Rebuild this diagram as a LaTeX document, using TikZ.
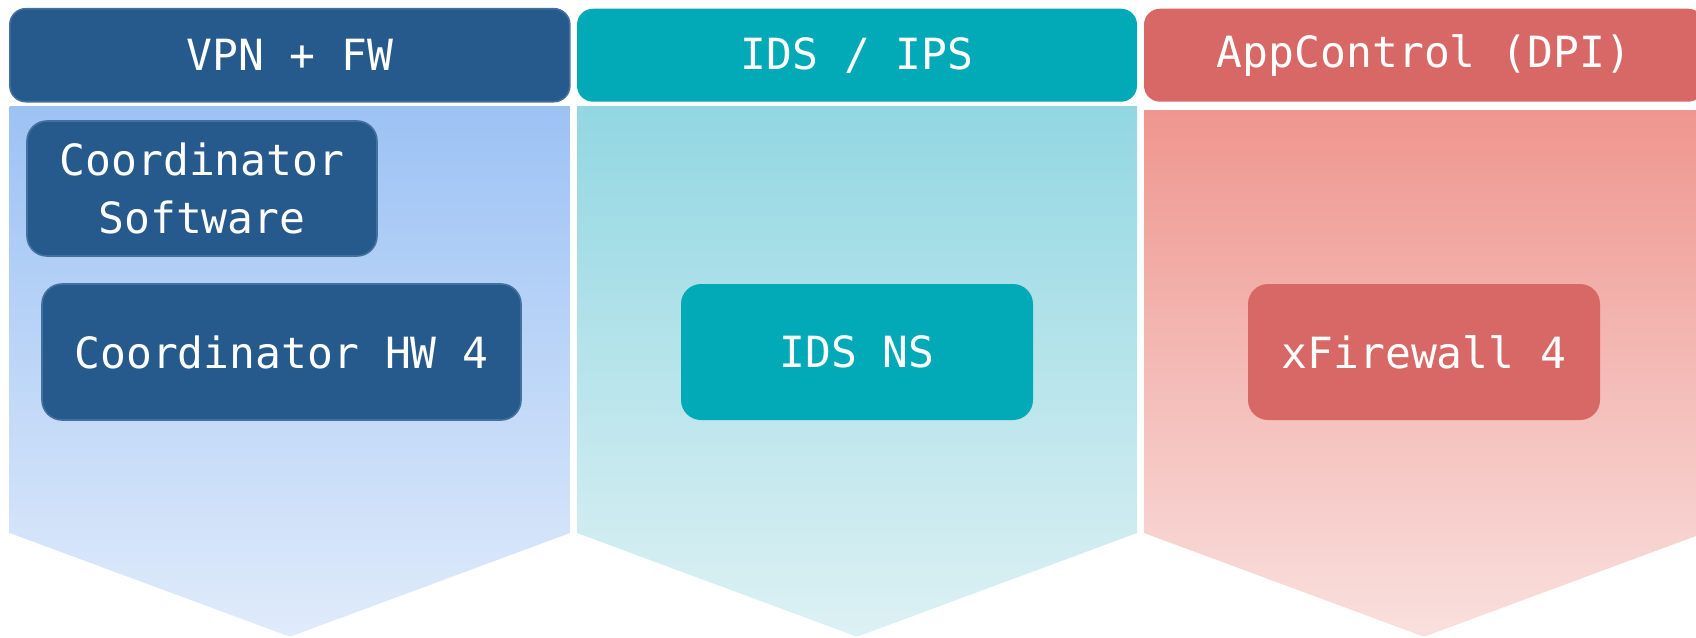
\documentclass[tikz,border=0pt]{standalone}
\usepackage{fontspec}
\setmonofont{DejaVu Sans Mono}
\definecolor{hdrblue}{HTML}{275A8C}
\definecolor{hdrblueline}{HTML}{43709E}
\definecolor{hdrteal}{HTML}{02A9B6}
\definecolor{hdrred}{HTML}{D76865}
\definecolor{blueTop}{HTML}{9CC2F4}
\definecolor{blueBot}{HTML}{E0EBFB}
\definecolor{tealTop}{HTML}{92D7E2}
\definecolor{tealBot}{HTML}{DDF1F4}
\definecolor{redTop}{HTML}{EF968F}
\definecolor{redBot}{HTML}{F9E0DE}
\newcommand\mytxt{\ttfamily\fontsize{21.5}{26}\selectfont}
\begin{document}
\begin{tikzpicture}[x=0.5pt,y=-0.5pt,
  hdr/.style={rounded corners=8pt, text=white, font=\mytxt, minimum width=280pt, minimum height=46.5pt, inner sep=0pt},
  inbox/.style={rounded corners=10pt, text=white, font=\mytxt, minimum height=68pt, inner sep=0pt, align=center},
  blueitem/.style={fill=hdrblue, draw=hdrblueline, line width=0.8pt},
  tealitem/.style={fill=hdrteal},
  reditem/.style={fill=hdrred}]
\useasboundingbox (0,0) rectangle (1696,637);
% bodies
\shade[top color=blueTop, bottom color=blueBot]
  (9.7,106) -- (570,106) -- (570,533) -- (292,636) -- (288,636) -- (9.7,533) -- cycle;
\shade[top color=tealTop, bottom color=tealBot]
  (577,106) -- (1137,106) -- (1137,533) -- (859,636) -- (855,636) -- (577,533) -- cycle;
\shade[top color=redTop, bottom color=redBot]
  (1144,110) -- (1704,110) -- (1704,533) -- (1426,636) -- (1422,636) -- (1144,533) -- cycle;
% headers
\node[hdr, blueitem] (h1) at (289.85,55.2) {VPN + FW};
\node[hdr, tealitem] (h2) at (857,55.2) {IDS / IPS};
\node[hdr, reditem] (h3) at (1424,55.2) {AppControl (DPI)};
% inner boxes
\node[inbox, blueitem, minimum width=175pt, minimum height=67.5pt] (cs) at (202,188.5) {Coordinator\\[3pt]Software};
\node[inbox, blueitem, minimum width=239.5pt] (hw) at (281.5,352) {Coordinator HW 4};
\node[inbox, tealitem, minimum width=176pt] (ids) at (857,352) {IDS NS};
\node[inbox, reditem, minimum width=176pt] (xfw) at (1424,352) {xFirewall 4};
\end{tikzpicture}
\end{document}
